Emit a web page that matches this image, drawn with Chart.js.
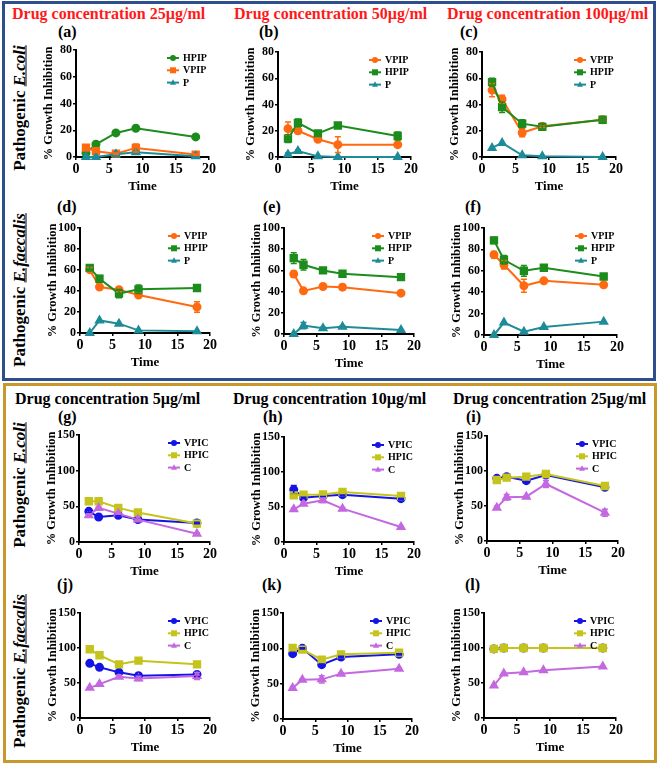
<!DOCTYPE html>
<html>
<head>
<meta charset="utf-8">
<script src="https://cdn.jsdelivr.net/npm/chart.js@4.4.1/dist/chart.umd.min.js"></script>
<style>
  body { margin: 0; background: #fff; width: 660px; height: 764px; position: relative; overflow: hidden;
         font-family: 'Liberation Serif', 'Times New Roman', serif; font-weight: bold; }
  .box { position: absolute; box-sizing: border-box; border: 3px solid; }
  .t { position: absolute; white-space: nowrap; font-size: 16px; line-height: 16px; }
  .red { color: #ff1a1a; }
  .row { position: absolute; white-space: nowrap; font-size: 17px; line-height: 17px;
         transform: translate(-50%, -50%) rotate(-90deg); }
  .row i { text-decoration: underline; }
  canvas { position: absolute; }
</style>
</head>
<body>
<div class="box" style="left:2px;top:1px;width:654px;height:380px;border-color:#2e4e8e"></div>
<div class="box" style="left:3px;top:383px;width:654px;height:380px;border-color:#c9982a"></div>

<div class="t red" style="left:12px;top:6px">Drug concentration 25µg/ml</div>
<div class="t red" style="left:234px;top:6px">Drug concentration 50µg/ml</div>
<div class="t red" style="left:447px;top:6px">Drug concentration 100µg/ml</div>
<div class="t" style="left:15px;top:391px">Drug concentration 5µg/ml</div>
<div class="t" style="left:233px;top:391px">Drug concentration 10µg/ml</div>
<div class="t" style="left:453px;top:391px">Drug concentration 25µg/ml</div>

<div class="t" style="left:58px;top:24px">(a)</div>
<div class="t" style="left:259px;top:24px">(b)</div>
<div class="t" style="left:460px;top:24px">(c)</div>
<div class="t" style="left:57px;top:199px">(d)</div>
<div class="t" style="left:263px;top:199px">(e)</div>
<div class="t" style="left:465px;top:199px">(f)</div>
<div class="t" style="left:58px;top:409px">(g)</div>
<div class="t" style="left:263px;top:409px">(h)</div>
<div class="t" style="left:466px;top:409px">(i)</div>
<div class="t" style="left:57px;top:577px">(j)</div>
<div class="t" style="left:262px;top:577px">(k)</div>
<div class="t" style="left:465px;top:577px">(l)</div>

<div class="row" style="left:19px;top:108px">Pathogenic <i>E.coli</i></div>
<div class="row" style="left:19px;top:290px">Pathogenic <i>E.faecalis</i></div>
<div class="row" style="left:19px;top:485px">Pathogenic <i>E.coli</i></div>
<div class="row" style="left:19px;top:671px">Pathogenic <i>E.faecalis</i></div>

<script>
// sampling times (h)
const times = [1.5, 3, 6, 9, 18];

// (a) E.coli 25 µg/ml
const a_HPIP = [3, 9.5, 18, 21.5, 15];
const a_VPIP = [7, 4.3, 2.5, 6.8, 1.8];
const a_P = [0, 0, 2, 3.5, 0.5];
const a_VPIP_err = [1.5, 1, 0.5, 3, 0.5];

// (b) E.coli 50 µg/ml
const b_VPIP = [21.6, 20, 13.5, 9.4, 9.4];
const b_HPIP = [14, 26, 18, 24, 16];
const b_P = [2, 4.6, 0.5, 0, 0];
const b_VPIP_err = [5, 2, 1, 6, 1];
const b_HPIP_err = [3, 3, 2, 1, 3];
const b_P_err = [1, 1, 0, 0, 0];

// (c) E.coli 100 µg/ml
const c_VPIP = [51, 44, 18.5, 23.4, 28.4];
const c_HPIP = [57, 38, 25.4, 23, 28.4];
const c_P = [6.9, 10.7, 1.3, 0.5, 0];
const c_VPIP_err = [5, 3, 3, 1, 1];
const c_HPIP_err = [3, 4, 3, 2, 1];

// (d) E.faecalis 25 µg/ml
const d_VPIP = [60.3, 43.8, 41.3, 36.2, 24.8];
const d_HPIP = [62, 51.7, 37.5, 41.6, 42.9];
const d_P = [0, 12, 8.9, 2.5, 1.6];
const d_VPIP_err = [2, 1, 2, 2, 5];
const d_HPIP_err = [3, 3, 4, 4, 2];

// (e) E.faecalis 50 µg/ml
const e_VPIP = [56.5, 40.7, 44.8, 44.2, 38.5];
const e_HPIP = [71.6, 65.3, 60, 56.8, 53.6];
const e_P = [0, 7.9, 5.4, 6.9, 3.8];
const e_VPIP_err = [3, 1, 1, 2.5, 1];
const e_HPIP_err = [5, 5, 1, 2.5, 1];
const e_P_err = [0, 3, 1, 1, 0];

// (f) E.faecalis 100 µg/ml
const f_VPIP = [75, 65.6, 46, 50.6, 46.9];
const f_HPIP = [88.4, 70.3, 60, 62.8, 54.7];
const f_P = [0, 11.6, 3.1, 7.5, 12.5];
const f_VPIP_err = [3, 4, 6, 1, 1];
const f_HPIP_err = [3, 4, 5, 1, 1];

// (g) E.coli 5 µg/ml
const g_VPIC = [43, 35, 37.5, 31.4, 26.7];
const g_HPIC = [57.2, 57.2, 47.8, 41.3, 25.8];
const g_C = [37.5, 47.8, 39.8, 31.4, 11.7];
const g_VPIC_err = [2, 1, 1, 1, 1];
const g_C_err = [2, 1, 1, 1, 1];

// (h) E.coli 10 µg/ml
const h_VPIC = [74.8, 63.3, 65.7, 67.6, 61.9];
const h_HPIC = [66.7, 67.6, 68, 71.4, 65.7];
const h_C = [46.7, 54.8, 59.5, 47.6, 21.4];
const h_VPIC_err = [6, 1, 1, 1, 1];
const h_HPIC_err = [2, 1, 1, 2, 1];
const h_C_err = [2, 2, 3, 1, 1];

// (i) E.coli 25 µg/ml
const i_VPIC = [89.5, 91.9, 86.2, 94.3, 76.7];
const i_HPIC = [87.1, 90.5, 91.9, 95.7, 78.6];
const i_C = [47.6, 62.4, 63.3, 81.4, 40.5];
const i_HPIC_err = [3, 1, 1, 1, 1];
const i_C_err = [2, 4, 1, 5, 5];

// (j) E.faecalis 5 µg/ml
const j_VPIC = [78.1, 72.4, 65.2, 60.4, 62.3];
const j_HPIC = [98.2, 89.6, 76.7, 81.9, 76.7];
const j_C = [43.1, 48.4, 58.9, 56.5, 59.9];
const j_VPIC_err = [1, 1, 1, 1, 3];
const j_C_err = [1, 1, 2, 3, 5];

// (k) E.faecalis 10 µg/ml
const k_VPIC = [92.5, 100, 76.9, 87.7, 91.5];
const k_HPIC = [100.5, 98.1, 84, 91.5, 93.9];
const k_C = [43.9, 55.7, 56.1, 64.2, 71.2];
const k_VPIC_err = [2, 1, 1, 1, 1];
const k_C_err = [2, 1, 5, 1, 1];

// (l) E.faecalis 25 µg/ml
const l_VPIC = [98.7, 100, 100, 100, 100];
const l_HPIC = [98.7, 100, 100, 100, 100];
const l_C = [46.5, 63.6, 65.5, 68.3, 73.6];

const ORANGE = '#ff6a10', GREEN = '#1c8c1c', TEAL = '#1e8c98';
const BLUE = '#1414e6', OLIVE = '#c4c41c', VIOLET = '#c468e0';
const FONT = "'Liberation Serif', 'Times New Roman', serif";

function ser(label, values, errs, color, shape) {
    return { label, values, errs, color, shape };
}

// plot area in page pixels: [left, top, right, bottom]
const panels = [
    { area: [76, 50, 209, 157], yMax: 80, step: 20, series: [
        ser('HPIP', a_HPIP, null, GREEN, 'circle'),
        ser('VPIP', a_VPIP, a_VPIP_err, ORANGE, 'rect'),
        ser('P', a_P, null, TEAL, 'triangle')] },
    { area: [278, 52, 411, 157], yMax: 80, step: 20, series: [
        ser('VPIP', b_VPIP, b_VPIP_err, ORANGE, 'circle'),
        ser('HPIP', b_HPIP, b_HPIP_err, GREEN, 'rect'),
        ser('P', b_P, b_P_err, TEAL, 'triangle')] },
    { area: [482, 52, 616, 157], yMax: 80, step: 20, series: [
        ser('VPIP', c_VPIP, c_VPIP_err, ORANGE, 'circle'),
        ser('HPIP', c_HPIP, c_HPIP_err, GREEN, 'rect'),
        ser('P', c_P, null, TEAL, 'triangle')] },
    { area: [80, 228, 210, 333], yMax: 100, step: 20, series: [
        ser('VPIP', d_VPIP, d_VPIP_err, ORANGE, 'circle'),
        ser('HPIP', d_HPIP, d_HPIP_err, GREEN, 'rect'),
        ser('P', d_P, null, TEAL, 'triangle')] },
    { area: [284, 228, 414, 334], yMax: 100, step: 20, series: [
        ser('VPIP', e_VPIP, e_VPIP_err, ORANGE, 'circle'),
        ser('HPIP', e_HPIP, e_HPIP_err, GREEN, 'rect'),
        ser('P', e_P, e_P_err, TEAL, 'triangle')] },
    { area: [484, 228, 617, 335], yMax: 100, step: 20, series: [
        ser('VPIP', f_VPIP, f_VPIP_err, ORANGE, 'circle'),
        ser('HPIP', f_HPIP, f_HPIP_err, GREEN, 'rect'),
        ser('P', f_P, null, TEAL, 'triangle')] },
    { area: [79, 435, 210, 542], yMax: 150, step: 50, series: [
        ser('VPIC', g_VPIC, g_VPIC_err, BLUE, 'circle'),
        ser('HPIC', g_HPIC, null, OLIVE, 'rect'),
        ser('C', g_C, g_C_err, VIOLET, 'triangle')] },
    { area: [284, 437, 414, 542], yMax: 150, step: 50, series: [
        ser('VPIC', h_VPIC, h_VPIC_err, BLUE, 'circle'),
        ser('HPIC', h_HPIC, h_HPIC_err, OLIVE, 'rect'),
        ser('C', h_C, h_C_err, VIOLET, 'triangle')] },
    { area: [487, 436, 618, 541], yMax: 150, step: 50, series: [
        ser('VPIC', i_VPIC, null, BLUE, 'circle'),
        ser('HPIC', i_HPIC, i_HPIC_err, OLIVE, 'rect'),
        ser('C', i_C, i_C_err, VIOLET, 'triangle')] },
    { area: [80, 613, 210, 718], yMax: 150, step: 50, series: [
        ser('VPIC', j_VPIC, j_VPIC_err, BLUE, 'circle'),
        ser('HPIC', j_HPIC, null, OLIVE, 'rect'),
        ser('C', j_C, j_C_err, VIOLET, 'triangle')] },
    { area: [283, 613, 412, 719], yMax: 150, step: 50, series: [
        ser('VPIC', k_VPIC, k_VPIC_err, BLUE, 'circle'),
        ser('HPIC', k_HPIC, null, OLIVE, 'rect'),
        ser('C', k_C, k_C_err, VIOLET, 'triangle')] },
    { area: [484, 613, 616, 718], yMax: 150, step: 50, series: [
        ser('VPIC', l_VPIC, null, BLUE, 'circle'),
        ser('HPIC', l_HPIC, null, OLIVE, 'rect'),
        ser('C', l_C, null, VIOLET, 'triangle')] }
];

const Y_W = 39, X_H = 39, PAD_T = 8, PAD_R = 9;

function marker(ctx, shape, x, y, r, color) {
    ctx.fillStyle = color;
    ctx.beginPath();
    if (shape === 'circle') {
        ctx.arc(x, y, r, 0, Math.PI * 2);
    } else if (shape === 'rect') {
        ctx.rect(x - r, y - r, 2 * r, 2 * r);
    } else {
        ctx.moveTo(x, y - r * 1.1);
        ctx.lineTo(x + r, y + r * 0.7);
        ctx.lineTo(x - r, y + r * 0.7);
        ctx.closePath();
    }
    ctx.fill();
}

// legend drawn inside the plot, top right, like the original
const insideLegend = {
    id: 'insideLegend',
    afterDraw(chart) {
        const { ctx, chartArea } = chart;
        ctx.save();
        ctx.font = 'bold 10px ' + FONT;
        ctx.textBaseline = 'middle';
        chart.data.datasets.forEach((ds, i) => {
            const cx = chartArea.right - 36;
            const cy = chartArea.top + 8 + i * 12.3;
            ctx.strokeStyle = ds.borderColor;
            ctx.lineWidth = 2;
            ctx.beginPath();
            ctx.moveTo(cx - 6, cy);
            ctx.lineTo(cx + 6, cy);
            ctx.stroke();
            marker(ctx, ds.pointStyle, cx, cy, 3, ds.borderColor);
            ctx.fillStyle = '#000';
            ctx.fillText(ds.label, cx + 10, cy + 0.5);
        });
        ctx.restore();
    }
};

// mean ± error bars
const errorBars = {
    id: 'errorBars',
    afterDatasetsDraw(chart) {
        const { ctx, scales: { x, y } } = chart;
        chart.data.datasets.forEach(ds => {
            if (!ds.errors) return;
            ctx.save();
            ctx.strokeStyle = ds.borderColor;
            ctx.lineWidth = 1.5;
            ds.data.forEach((p, k) => {
                const e = ds.errors[k];
                if (!e) return;
                const px = x.getPixelForValue(p.x);
                const y1 = y.getPixelForValue(p.y + e);
                const y2 = y.getPixelForValue(Math.max(0, p.y - e));
                ctx.beginPath();
                ctx.moveTo(px, y1); ctx.lineTo(px, y2);
                ctx.moveTo(px - 3, y1); ctx.lineTo(px + 3, y1);
                ctx.moveTo(px - 3, y2); ctx.lineTo(px + 3, y2);
                ctx.stroke();
            });
            ctx.restore();
        });
    }
};

Chart.defaults.font.family = FONT;
Chart.defaults.font.weight = 'bold';
Chart.defaults.color = '#000';

panels.forEach(p => {
    const [l, t, r, b] = p.area;
    const cv = document.createElement('canvas');
    cv.width = Y_W + (r - l) + PAD_R;
    cv.height = PAD_T + (b - t) + X_H;
    cv.style.left = (l - Y_W) + 'px';
    cv.style.top = (t - PAD_T) + 'px';
    document.body.appendChild(cv);

    const datasets = p.series.map((s, k) => ({
        label: s.label,
        data: times.map((tm, n) => ({ x: tm, y: s.values[n] })),
        errors: s.errs,
        borderColor: s.color,
        backgroundColor: s.color,
        pointBackgroundColor: s.color,
        pointBorderColor: s.color,
        pointStyle: s.shape,
        pointRadius: s.shape === 'rect' ? 4.5 : (s.shape === 'triangle' ? 4 : 3.5),
        borderWidth: 2,
        tension: 0,
        clip: false,
        order: -k
    }));

    new Chart(cv.getContext('2d'), {
        type: 'line',
        data: { datasets },
        plugins: [errorBars, insideLegend],
        options: {
            responsive: false,
            animation: false,
            layout: { padding: { top: PAD_T, right: PAD_R, left: 0, bottom: 0 } },
            plugins: { legend: { display: false }, tooltip: { enabled: false } },
            scales: {
                x: {
                    type: 'linear', min: 0, max: 20,
                    ticks: { stepSize: 5, padding: 1, font: { size: 14, weight: 'bold' } },
                    grid: { drawOnChartArea: false, tickLength: 3, color: '#000', lineWidth: 1.5 },
                    border: { color: '#000', width: 2 },
                    title: { display: true, text: 'Time', font: { size: 13, weight: 'bold' }, padding: { top: 0, bottom: 2 } },
                    afterFit(s) { s.height = X_H; s.paddingLeft = 0; s.paddingRight = 0; }
                },
                y: {
                    min: 0, max: p.yMax,
                    ticks: { stepSize: p.step, padding: 1, font: { size: 12, weight: 'bold' } },
                    grid: { drawOnChartArea: false, tickLength: 3, color: '#000', lineWidth: 1.5 },
                    border: { color: '#000', width: 2 },
                    title: { display: true, text: '% Growth Inhibition', font: { size: 12.5, weight: 'bold' }, padding: { top: 4, bottom: 0 } },
                    afterFit(s) { s.width = Y_W; s.paddingTop = 0; s.paddingBottom = 0; }
                }
            }
        }
    });
});
</script>
</body>
</html>
